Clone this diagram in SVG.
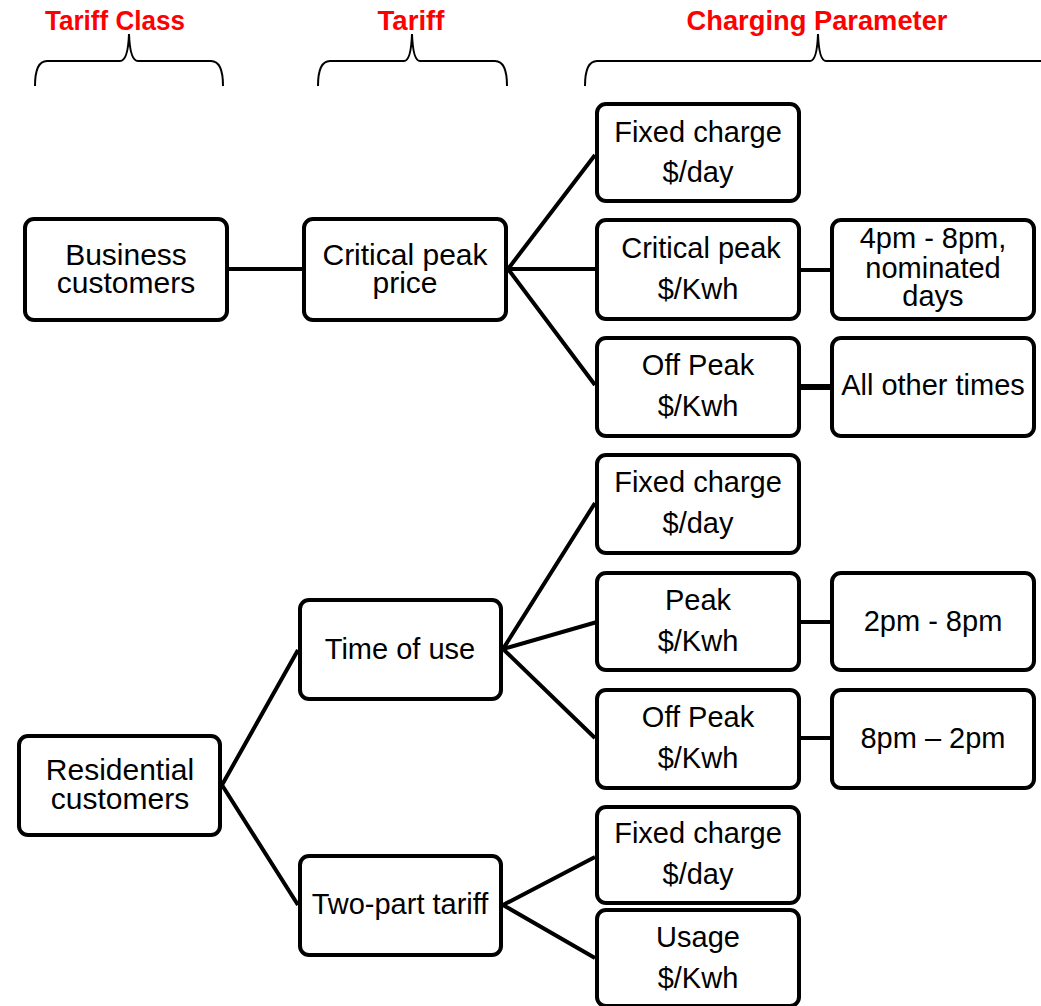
<svg xmlns="http://www.w3.org/2000/svg" width="1041" height="1006" viewBox="0 0 1041 1006">
<style>
.box{fill:#fff;stroke:#000;stroke-width:4}
.t{font-family:"Liberation Sans",Arial,sans-serif;font-size:29px;fill:#000;text-anchor:middle}
.t1{font-size:30px}
.h{font-family:"Liberation Sans",Arial,sans-serif;font-size:27px;font-weight:bold;fill:#f00;text-anchor:middle}
.br{fill:none;stroke:#000;stroke-width:2}
.c{stroke:#000;stroke-width:4;fill:none}
</style>
<g id="headers">
<text class="h" x="115" y="30" textLength="140" lengthAdjust="spacingAndGlyphs">Tariff Class</text>
<text class="h" x="411" y="30" textLength="67" lengthAdjust="spacingAndGlyphs">Tariff</text>
<text class="h" x="817" y="30" textLength="261" lengthAdjust="spacingAndGlyphs">Charging Parameter</text>
<path class="br" d="M35,86 Q35,61 47,61 L120,61 Q128,61 129,34 Q130,61 138,61 L211,61 Q223,61 223,86"/>
<path class="br" d="M318,86 Q318,61 330,61 L404,61 Q411,61 412,34 Q413,61 420,61 L495,61 Q507,61 507,86"/>
<path class="br" d="M585,86 Q585,61 597,61 L810,61 Q817,61 818,34 Q819,61 826,61 L1041,61"/>
</g>
<g id="connectors">
<line class="c" x1="227" y1="269" x2="304" y2="269"/>
<path class="c" d="M595,155 L508,269 L595,385 M508,269 L597,269"/>
<line class="c" x1="799" y1="270" x2="832" y2="270"/>
<line class="c" x1="799" y1="387" x2="832" y2="387" style="stroke-width:6"/>
<path class="c" d="M298,650 L222,785 L298,905"/>
<path class="c" d="M595,503 L503,649 L595,738 M503,649 L597,622"/>
<line class="c" x1="799" y1="622" x2="832" y2="622"/>
<line class="c" x1="799" y1="738" x2="832" y2="738"/>
<path class="c" d="M595,857 L503,905 L595,958"/>
</g>
<g id="business"><rect class="box" x="25" y="219" width="202" height="101" rx="9"/><text class="t t1" x="126" y="265">Business<tspan x="126" dy="28">customers</tspan></text></g>
<g id="cpp"><rect class="box" x="304" y="219" width="202" height="101" rx="9"/><text class="t t1" x="405" y="265">Critical peak<tspan x="405" dy="28">price</tspan></text></g>
<g id="fixed1"><rect class="box" x="597" y="104" width="202" height="97" rx="9"/><text class="t" x="698" y="142">Fixed charge</text><text class="t" x="698" y="182">$/day</text></g>
<g id="critical"><rect class="box" x="597" y="220" width="202" height="99" rx="9"/><text class="t" x="701" y="258">Critical peak</text><text class="t" x="698" y="299">$/Kwh</text></g>
<g id="offpeak1"><rect class="box" x="597" y="338" width="202" height="98" rx="9"/><text class="t" x="698" y="375">Off Peak</text><text class="t" x="698" y="416">$/Kwh</text></g>
<g id="cptime"><rect class="box" x="832" y="220" width="202" height="99" rx="9"/><text class="t" x="933" y="248">4pm - 8pm,<tspan x="933" dy="30">nominated</tspan><tspan x="933" dy="28">days</tspan></text></g>
<g id="othertimes"><rect class="box" x="832" y="338" width="202" height="98" rx="9"/><text class="t" x="933" y="395">All other times</text></g>
<g id="residential"><rect class="box" x="19" y="736" width="201" height="99" rx="9"/><text class="t t1" x="120" y="780">Residential<tspan x="120" dy="29">customers</tspan></text></g>
<g id="tou"><rect class="box" x="300" y="600" width="201" height="99" rx="9"/><text class="t" x="400" y="659">Time of use</text></g>
<g id="twopart"><rect class="box" x="300" y="856" width="201" height="99" rx="9"/><text class="t" x="400" y="914">Two-part tariff</text></g>
<g id="fixed2"><rect class="box" x="597" y="455" width="202" height="98" rx="9"/><text class="t" x="698" y="492">Fixed charge</text><text class="t" x="698" y="533">$/day</text></g>
<g id="peak"><rect class="box" x="597" y="573" width="202" height="97" rx="9"/><text class="t" x="698" y="610">Peak</text><text class="t" x="698" y="651">$/Kwh</text></g>
<g id="offpeak2"><rect class="box" x="597" y="690" width="202" height="98" rx="9"/><text class="t" x="698" y="727">Off Peak</text><text class="t" x="698" y="768">$/Kwh</text></g>
<g id="peaktime"><rect class="box" x="832" y="573" width="202" height="97" rx="9"/><text class="t" x="933" y="631">2pm - 8pm</text></g>
<g id="offpeaktime"><rect class="box" x="832" y="690" width="202" height="98" rx="9"/><text class="t" x="933" y="748">8pm – 2pm</text></g>
<g id="fixed3"><rect class="box" x="597" y="807" width="202" height="96" rx="9"/><text class="t" x="698" y="843">Fixed charge</text><text class="t" x="698" y="884">$/day</text></g>
<g id="usage"><rect class="box" x="597" y="910" width="202" height="96" rx="9"/><text class="t" x="698" y="947">Usage</text><text class="t" x="698" y="988">$/Kwh</text></g>
</svg>
